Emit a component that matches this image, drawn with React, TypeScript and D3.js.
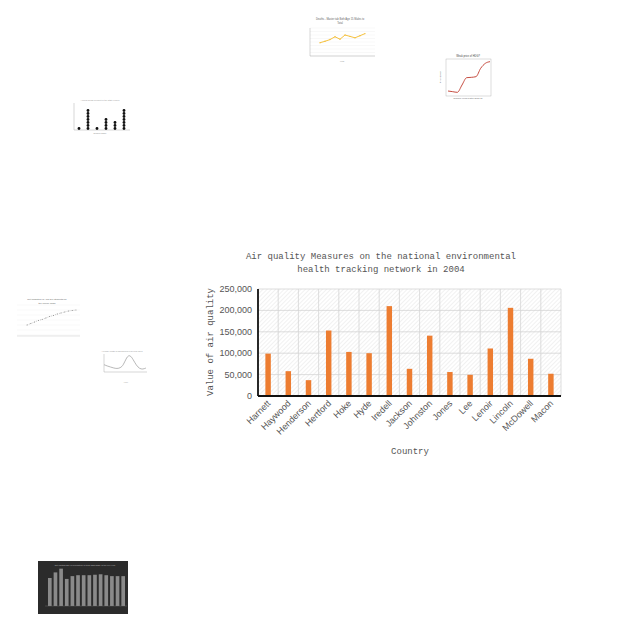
import React from "react";
import * as d3 from "d3";

// main chart data
const counties = [
  "Harnett", "Haywood", "Henderson", "Hertford", "Hoke", "Hyde", "Iredell", "Jackson",
  "Johnston", "Jones", "Lee", "Lenoir", "Lincoln", "McDowell", "Macon",
];
const airValues = [
  99000, 58000, 37000, 153000, 103000, 100000, 210000, 63500,
  141000, 56000, 49500, 111000, 206000, 87000, 52000,
];
const yTicks = [0, 50000, 100000, 150000, 200000, 250000];

// thumbnail data
const yellowYears = [2005, 2006, 2007, 2008, 2009, 2010, 2011, 2012, 2013, 2014];
const yellowValues = [38, 42, 47, 55, 48, 60, 56, 52, 58, 64];
const redValues = [12, 10, 8, 30, 52, 53, 55, 80, 95, 100];
const dotCounts = [1, 7, 1, 4, 3, 7];
const riseValues = [40, 43, 46, 49, 51, 54, 57, 59, 62, 64, 66, 68, 69, 70];
const peakValues = [62, 58, 55, 52, 50, 52, 60, 85, 92, 78, 60, 50, 48, 52];
const darkValues = [60, 72, 80, 58, 64, 66, 66, 66, 67, 68, 66, 64, 64, 64];

const mono = "'Liberation Mono', 'DejaVu Sans Mono', monospace";
const sans = "'Liberation Sans', Arial, sans-serif";

const MainChart = () => {
  const m = { left: 258, right: 561, top: 289, bottom: 396 };
  const x = d3.scaleBand<string>().domain(counties).range([m.left, m.right]).paddingInner(0.73).paddingOuter(0.365);
  const xCell = d3.scaleBand<string>().domain(counties).range([m.left, m.right]);
  const y = d3.scaleLinear().domain([0, 250000]).range([m.bottom, m.top]);
  const fmt = d3.format(",");
  return (
    <g>
      <defs>
        <pattern id="hatch" width="3" height="3" patternUnits="userSpaceOnUse" patternTransform="rotate(45)">
          <line x1="0" y1="0" x2="0" y2="3" stroke="#dcdcdc" strokeWidth="0.8" />
        </pattern>
      </defs>
      <text x={381} y={259} textAnchor="middle" fontFamily={mono} fontSize={9} fill="#555">
        Air quality Measures on the national environmental
      </text>
      <text x={381} y={272} textAnchor="middle" fontFamily={mono} fontSize={9} fill="#555">
        health tracking network in 2004
      </text>
      <rect x={m.left} y={m.top} width={m.right - m.left} height={m.bottom - m.top} fill="url(#hatch)" />
      {yTicks.map((t) => (
        <g key={t}>
          <line x1={m.left} x2={m.right} y1={y(t)} y2={y(t)} stroke="#d4d4d4" strokeWidth={0.8} />
          <text x={252} y={y(t) + 3} textAnchor="end" fontFamily={sans} fontSize={9} fill="#555">
            {fmt(t)}
          </text>
        </g>
      ))}
      {counties.map((c) => (
        <line key={c} x1={(xCell(c) ?? 0) + xCell.bandwidth()} x2={(xCell(c) ?? 0) + xCell.bandwidth()} y1={m.top} y2={m.bottom} stroke="#d4d4d4" strokeWidth={0.8} />
      ))}
      {counties.map((c, i) => (
        <rect key={c} x={x(c)} y={y(airValues[i])} width={x.bandwidth()} height={y(0) - y(airValues[i])} fill="#ED7D31" />
      ))}
      <line x1={m.left} x2={m.left} y1={m.top} y2={m.bottom} stroke="#111" strokeWidth={1.8} />
      <line x1={m.left} x2={m.right} y1={m.bottom} y2={m.bottom} stroke="#111" strokeWidth={1.8} />
      {counties.map((c) => {
        const cx = (xCell(c) ?? 0) + xCell.bandwidth() / 2 + 3;
        return (
          <text key={c} transform={`translate(${cx},${m.bottom + 8}) rotate(-45)`} textAnchor="end" fontFamily={sans} fontSize={9} fill="#555">
            {c}
          </text>
        );
      })}
      <text transform={`translate(213,342) rotate(-90)`} textAnchor="middle" fontFamily={mono} fontSize={9} fill="#555">
        Value of air quality
      </text>
      <text x={410} y={454} textAnchor="middle" fontFamily={mono} fontSize={9} fill="#555">
        Country
      </text>
    </g>
  );
};

const YellowThumb = () => {
  const x = d3.scaleLinear().domain([2003, 2016]).range([310, 375]);
  const y = d3.scaleLinear().domain([0, 80]).range([56, 28]);
  const line = d3.line<number>().x((_, i) => x(yellowYears[i])).y((d) => y(d));
  return (
    <g>
      <text x={340} y={20} textAnchor="middle" fontFamily={sans} fontSize={2.6} fill="#666">Deaths - Master tab Both Age 15 Males to</text>
      <text x={340} y={24} textAnchor="middle" fontFamily={sans} fontSize={2.6} fill="#666">Total</text>
      {y.ticks(8).map((t) => (
        <line key={t} x1={310} x2={375} y1={y(t)} y2={y(t)} stroke="#eee" strokeWidth={0.4} />
      ))}
      <line x1={310} x2={310} y1={28} y2={56} stroke="#999" strokeWidth={0.4} />
      <line x1={310} x2={375} y1={56} y2={56} stroke="#999" strokeWidth={0.4} />
      <path d={line(yellowValues) ?? ""} fill="none" stroke="#f5c242" strokeWidth={1} />
      {yellowValues.map((v, i) => (
        <circle key={i} cx={x(yellowYears[i])} cy={y(v)} r={0.7} fill="#f5c242" />
      ))}
      <text x={342} y={62} textAnchor="middle" fontFamily={sans} fontSize={2.2} fill="#888">Year</text>
    </g>
  );
};

const RedThumb = () => {
  const x = d3.scaleLinear().domain([0, redValues.length - 1]).range([448, 490]);
  const y = d3.scaleLinear().domain([0, 105]).range([95, 60]);
  const line = d3.line<number>().x((_, i) => x(i)).y((d) => y(d)).curve(d3.curveMonotoneX);
  return (
    <g>
      <text x={468} y={57} textAnchor="middle" fontFamily={sans} fontSize={2.6} fill="#444">Weak price of HDG?</text>
      <rect x={446} y={59} width={45} height={37} fill="none" stroke="#aaa" strokeWidth={0.4} />
      <path d={line(redValues) ?? ""} fill="none" stroke="#c0392b" strokeWidth={0.9} />
      <text x={468} y={99} textAnchor="middle" fontFamily={sans} fontSize={2.2} fill="#666">Number of days after 2015-11</text>
      <text transform="translate(441,77) rotate(-90)" textAnchor="middle" fontFamily={sans} fontSize={2.2} fill="#666">Price (dollar)</text>
    </g>
  );
};

const DotThumb = () => {
  const x = d3.scaleLinear().domain([0, dotCounts.length - 1]).range([79, 124]);
  return (
    <g>
      <text x={100} y={101} textAnchor="middle" fontFamily={sans} fontSize={2.2} fill="#999">Annual gross product of the state region</text>
      <line x1={74} x2={130} y1={130} y2={130} stroke="#999" strokeWidth={0.4} />
      <line x1={74} x2={74} y1={103} y2={130} stroke="#999" strokeWidth={0.4} />
      {dotCounts.map((n, i) =>
        d3.range(n).map((k) => <circle key={`${i}-${k}`} cx={x(i)} cy={128.5 - k * 3} r={1.4} fill="#111" />)
      )}
      <text x={100} y={134} textAnchor="middle" fontFamily={sans} fontSize={2.2} fill="#888">Region name</text>
    </g>
  );
};

const RiseThumb = () => {
  const x = d3.scaleLinear().domain([0, riseValues.length - 1]).range([27, 76]);
  const y = d3.scaleLinear().domain([20, 80]).range([335, 305]);
  const line = d3.line<number>().x((_, i) => x(i)).y((d) => y(d));
  return (
    <g>
      <text x={47} y={300} textAnchor="middle" fontFamily={sans} fontSize={2.4} fill="#666">Net migration of Asia 2yr-students for</text>
      <text x={47} y={304} textAnchor="middle" fontFamily={sans} fontSize={2.4} fill="#666">the Prince Islam</text>
      {y.ticks(5).map((t) => (
        <line key={t} x1={17} x2={80} y1={y(t)} y2={y(t)} stroke="#eee" strokeWidth={0.4} />
      ))}
      <line x1={17} x2={80} y1={336} y2={336} stroke="#bbb" strokeWidth={0.4} />
      <path d={line(riseValues) ?? ""} fill="none" stroke="#777" strokeWidth={0.5} strokeDasharray="0.8,1.2" />
      {riseValues.map((v, i) => (
        <circle key={i} cx={x(i)} cy={y(v)} r={0.45} fill="#666" />
      ))}
    </g>
  );
};

const PeakThumb = () => {
  const x = d3.scaleLinear().domain([0, peakValues.length - 1]).range([104, 146]);
  const y = d3.scaleLinear().domain([40, 100]).range([372, 352]);
  const line = d3.line<number>().x((_, i) => x(i)).y((d) => y(d)).curve(d3.curveBasis);
  return (
    <g>
      <text x={122} y={352} textAnchor="middle" fontFamily={sans} fontSize={2} fill="#999">Average length of fish schools in several lakes</text>
      <line x1={104} x2={104} y1={354} y2={372} stroke="#999" strokeWidth={0.4} />
      <line x1={104} x2={147} y1={372} y2={372} stroke="#999" strokeWidth={0.4} />
      <path d={line(peakValues) ?? ""} fill="none" stroke="#888" strokeWidth={0.6} />
      <text x={126} y={383} textAnchor="middle" fontFamily={sans} fontSize={2} fill="#aaa">Lake</text>
    </g>
  );
};

const DarkThumb = () => {
  const x = d3.scaleBand<number>().domain(d3.range(darkValues.length)).range([46, 127]).padding(0.35);
  const y = d3.scaleLinear().domain([0, 90]).range([606, 564]);
  return (
    <g>
      <rect x={38} y={561} width={90} height={53} fill="#2b2b2b" />
      <text x={85} y={566} textAnchor="middle" fontFamily={sans} fontSize={2.2} fill="#bbb">Net visiting age of population in tons GDP/GDP of the per year</text>
      {darkValues.map((v, i) => (
        <rect key={i} x={x(i)} y={y(v)} width={x.bandwidth()} height={y(0) - y(v)} fill="#8a8a8a" />
      ))}
      <line x1={45} x2={127} y1={606} y2={606} stroke="#777" strokeWidth={0.4} />
    </g>
  );
};

export default function App() {
  return (
    <svg width={640} height={640} style={{ position: "absolute", left: 0, top: 0, background: "#fff" }}>
      <rect width={640} height={640} fill="#fff" />
      <YellowThumb />
      <RedThumb />
      <DotThumb />
      <RiseThumb />
      <PeakThumb />
      <DarkThumb />
      <MainChart />
    </svg>
  );
}
